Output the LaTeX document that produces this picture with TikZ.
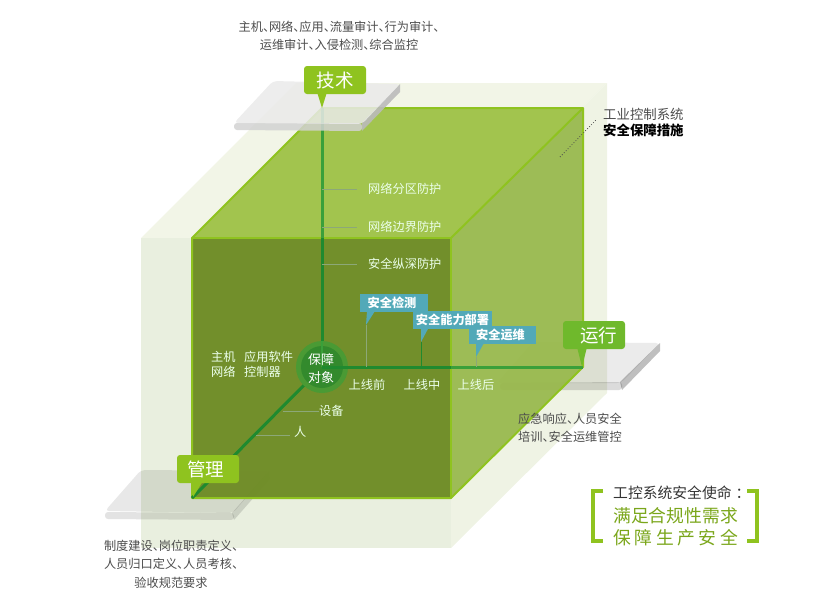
\documentclass[tikz,border=0pt]{standalone}
\usepackage{fontspec}
\setmainfont{Noto Sans CJK SC}
\usetikzlibrary{calc}
\definecolor{leaf}{HTML}{8FC31F}
\definecolor{runleaf}{HTML}{6FB92C}
\definecolor{axisgreen}{HTML}{3AA03A}
\definecolor{axisdark}{HTML}{1F8A2F}
\definecolor{flagblue}{HTML}{52A9B8}
\definecolor{slabtop}{HTML}{EAEAEA}
\definecolor{slabfront}{HTML}{D2D2D2}
\definecolor{slabside}{HTML}{BBBBBB}
\definecolor{paletop}{HTML}{F2F5E7}
\definecolor{paleside}{HTML}{EFF3E4}
\definecolor{palefront}{HTML}{E9EFDF}
\definecolor{facetop}{HTML}{A2C44E}
\definecolor{faceside}{HTML}{97B84A}
\definecolor{facefront}{HTML}{6F8C26}
\definecolor{tickgray}{HTML}{8CA878}
\newcommand{\dun}{\makebox[6pt][l]{、}}
\tikzset{
    whitetext/.style={font=\fontsize{12.2}{15}\selectfont, text=white!92!green, inner sep=0pt},
    darktext/.style={font=\fontsize{12.2}{18.5}\selectfont, text=black!70, inner sep=0pt, align=center},
    tickline/.style={draw=tickgray, line width=1pt},
    edgeline/.style={draw=leaf, line width=2pt, line join=round},
    axisline/.style={draw=axisgreen, line width=3pt},
    axisfront/.style={draw=axisdark, line width=3pt},
    callout/.style={fill=leaf, rounded corners=3pt, text=white, minimum width=62pt, minimum height=28pt, inner sep=0pt, font=\fontsize{18.5}{20}\selectfont},
    flagbox/.style={fill=flagblue, text=white, minimum height=18pt, inner sep=0pt, font=\fontsize{12.2}{14}\selectfont\bfseries}
}
\begin{document}
\begin{tikzpicture}[x=1pt,y=-1pt]
    \useasboundingbox (0,0) rectangle (814,603);

    %mark the corners of the cube
        \coordinate (F1) at (192,238);
        \coordinate (F2) at (451,238);
        \coordinate (F3) at (451,498);
        \coordinate (F4) at (192,498);
        \coordinate (B1) at (322,108);
        \coordinate (B2) at (583,108);
        \coordinate (B3) at (583,367);
        \coordinate (O) at (322,367);

    %pale outer cube
        \fill[paletop] (141,238) -- (296,83) -- (607,83) -- (451,238) -- cycle;
        \fill[paleside] (451,238) -- (607,83) -- (607,393) -- (451,548) -- cycle;
        \fill[palefront] (141,238) rectangle (451,548);

    %grey slabs under the green faces
        \fill[black, opacity=.25] (620,382) -- (660,343) -- (660,351) -- (622,390) -- cycle;
        \fill[black, opacity=.14, rounded corners=3pt] (500,383) -- (500,390) -- (622,390) -- (622,382) -- cycle;
        \fill[black, opacity=.08, rounded corners=4pt] (533,342) -- (660,343) -- (621,383) -- (497,383) -- cycle;
        \fill[black, opacity=.13] (232,513) -- (269,471) -- (270,479) -- (234,520) -- cycle;
        \fill[black, opacity=.11, rounded corners=3pt] (105,512) -- (105,519) -- (234,520) -- (234,513) -- cycle;
        \fill[black, opacity=.09, rounded corners=4pt] (141,470) -- (269,471) -- (233,513) -- (105,511) -- cycle;

    %green inner cube
        \fill[facetop] (F1) -- (B1) -- (B2) -- (F2) -- cycle;
        \fill[faceside, opacity=.92] (F2) -- (B2) -- (B3) -- (F3) -- cycle;
        \fill[facefront, opacity=.97] (F1) -- (F2) -- (F3) -- (F4) -- cycle;
        \draw[edgeline] (F4) -- (F1) -- (B1) -- (B2) -- (B3) -- (F3) -- cycle;
        \draw[edgeline] (F1) -- (F2) -- (F3);
        \draw[edgeline] (F2) -- (B2);

    %axes and the round centre
        \draw[axisline] (B1) -- (322,238);
        \draw[axisfront] (322,238) -- (O);
        \draw[axisline] (451,367) -- (B3);
        \draw[axisfront] (O) -- (451,367);
        \draw[axisfront] (O) -- (F4);
        \fill[axisgreen!70!facefront] (O) circle (26);
        \fill[axisdark!75!facefront] (O) circle (21);
        \draw[axisline, line width=2pt] (O) -- ++(0,-26);
        \draw[axisfront] (O) -- ++(26,0);
        \node[whitetext, text=white, align=center, font=\fontsize{13}{18}\selectfont] (obj) at (321,369) {保障\\对象};

    %ticks on the axes
        \foreach \nm/\tx/\yy in {a/网络分区防护/189, b/网络边界防护/227, c/安全纵深防护/264}{
            \node[whitetext, anchor=west] (l\nm) at (368,\yy) {\tx};
            \coordinate (t\nm) at (322,\yy);
            \draw[tickline] (t\nm) -- ++(35,0);
        }
        \node[whitetext, anchor=west] (dev) at (319,411) {设备};
        \node[whitetext, anchor=west] (man) at (294,432) {人};
        \coordinate (tdev) at (283,411);
        \coordinate (tman) at (256,435);
        \draw[tickline] (tdev) -- (dev.west);
        \draw[tickline] (tman) -- ++(34,0);
        \node[whitetext, anchor=west, align=left] (hosts) at (211,364) {主机\\网络};
        \node[whitetext, anchor=west, align=left] (apps) at (244,364) {应用软件\\控制器};
        \node[whitetext] (pre) at (367,385) {上线前};
        \node[whitetext] (mid) at (422,385) {上线中};
        \node[whitetext] (post) at (476,385) {上线后};

    %blue flags
        \coordinate (p1) at (366,325);
        \coordinate (p2) at (421,342);
        \coordinate (p3) at (476,357);
        \draw[tickline] (p1) -- (366,367);
        \draw[axisdark, line width=1pt] (p2) -- (421,367);
        \draw[tickline] (p3) -- (476,367);
        \fill[flagblue] (p1) -- (367,311) -- (375,311) -- cycle;
        \fill[flagblue] (p2) -- (421,327) -- (429,327) -- cycle;
        \fill[flagblue] (p3) -- (476,343) -- (484,343) -- cycle;
        \node[flagbox, minimum width=68pt] (f1) at (394,303) {\hspace*{-4pt}安全检测};
        \node[flagbox, minimum width=79pt] (f2) at (452.5,320) {安全能力部署};
        \node[flagbox, minimum width=67pt] (f3) at (502.5,335) {\hspace*{-4pt}安全运维};

    %top slab lies over the cube
        \fill[slabside, opacity=.9] (362,123) -- (400,84) -- (400,92) -- (362,131) -- cycle;
        \fill[slabfront, opacity=.85, rounded corners=3pt] (234,123) -- (234,130) -- (362,131) -- (362,123) -- cycle;
        \fill[slabtop, opacity=.85, rounded corners=4pt] (273,81) -- (400,84) -- (362,124) -- (234,123) -- cycle;

    %green callouts
        \fill[leaf] (322,108) -- (317,92) -- (327,92) -- cycle;
        \fill[runleaf] (582,367) -- (577,347) -- (587,347) -- cycle;
        \fill[leaf] (193,497) -- (193,481) -- (203,481) -- cycle;
        \node[callout] (tech) at (335,80) {技术};
        \node[callout, fill=runleaf] (run) at (594,335) {\hspace*{9pt}运行};
        \node[callout] (mgmt) at (208,469) {\hspace*{-5pt}管理};

    %texts outside the cube
        \node[darktext] (techtxt) at (339,36) {主机\dun 网络\dun 应用\dun 流量审计\dun 行为审计\dun\\运维审计\dun 入侵检测\dun 综合监控};
        \node[darktext] (runtxt) at (570,428) {应急响应\dun 人员安全\\培训\dun 安全运维管控};
        \node[darktext] (mgmttxt) at (171,564) {制度建设\dun 岗位职责定义\dun\\人员归口定义\dun 人员考核\dun\\验收规范要求};
        \node[darktext, anchor=west, align=left, font=\fontsize{13.4}{16}\selectfont] (title) at (603,123) {工业控制系统\\\textcolor{black}{\bfseries 安全保障措施}};
        \coordinate (dotA) at (560,157);
        \coordinate (dotB) at (596,120);
        \draw[black!70, dotted, line width=.8pt] (dotA) -- (dotB);

    %mission box in brackets
        \draw[leaf, line width=4pt] (603,491) -- (593,491) -- (593,541) -- (603,541);
        \draw[leaf, line width=4pt] (747,491) -- (757,491) -- (757,541) -- (747,541);
        \node[inner sep=0pt, anchor=west, text=black!80, font=\fontsize{14.8}{16}\selectfont] (m1) at (613,493) {工控系统安全使命\kern4pt：};
        \node[inner sep=0pt, anchor=west, text=leaf!85!black, font=\fontsize{17.8}{20}\selectfont] (m2) at (613,516) {满足合规性需求};
        \node[inner sep=0pt, anchor=west, text=leaf!85!black, font=\fontsize{17.8}{20}\selectfont] (m3) at (613,538) {\makebox[125pt][s]{保\hfill 障\hfill 生\hfill 产\hfill 安\hfill 全}};
\end{tikzpicture}
\end{document}
